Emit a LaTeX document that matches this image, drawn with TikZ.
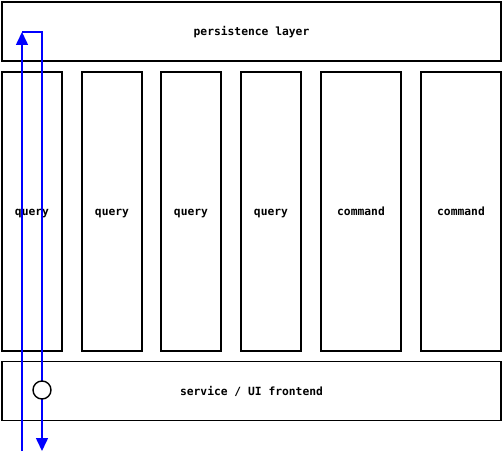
\documentclass[tikz,border=0pt]{standalone}
\usepackage{fontspec}
\newfontfamily\monofont{DejaVu Sans Mono}
\usetikzlibrary{arrows.meta}
\begin{document}
\begin{tikzpicture}[x=1pt,y=-1pt,
  box/.style={draw=black,line width=1.6pt,fill=white,inner sep=0pt,text height=8.5pt,text depth=0pt,font=\monofont\bfseries\fontsize{11.3}{13}\selectfont},
  flow/.style={draw=blue,line width=1.6pt},
  tip/.style={-{Triangle[length=13pt,width=12pt]}}]
\useasboundingbox (0,0) rectangle (503,454);
\node[box,minimum width=499pt,minimum height=59pt] (persist) at (251.5,31.5) {persistence layer};
\node[box,minimum width=60pt,minimum height=279pt] (q1) at (32,211.5) {query};
\node[box,minimum width=60pt,minimum height=279pt] (q2) at (112,211.5) {query};
\node[box,minimum width=60pt,minimum height=279pt] (q3) at (191,211.5) {query};
\node[box,minimum width=60pt,minimum height=279pt] (q4) at (271,211.5) {query};
\node[box,minimum width=80pt,minimum height=279pt] (c1) at (361,211.5) {command};
\node[box,minimum width=80pt,minimum height=279pt] (c2) at (461,211.5) {command};
\node[box,minimum width=499pt,minimum height=59pt] (service) at (251.5,391) {service / UI frontend};
\coordinate (upstart) at (22,451);
\coordinate (corner1) at (22,32);
\coordinate (corner2) at (42,32);
\coordinate (downend) at (42,451);
\draw[flow,tip] (upstart) -- (corner1);
\draw[flow,tip] (corner1) -- (corner2) -- (downend);
\node[draw=black,line width=1.4pt,fill=white,circle,minimum size=18pt,inner sep=0pt] (ring) at (42,390) {};
\end{tikzpicture}
\end{document}
